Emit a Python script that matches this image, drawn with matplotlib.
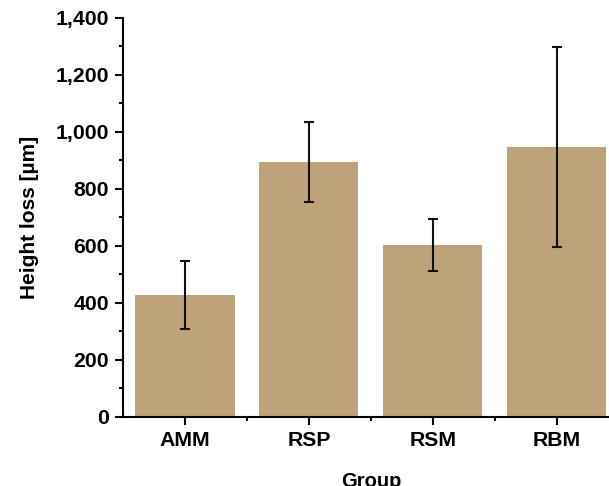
import numpy as np
import matplotlib
matplotlib.use("Agg")
import matplotlib.pyplot as plt
from matplotlib.ticker import MultipleLocator, FixedLocator, FuncFormatter

# data
groups = ["AMM", "RSP", "RSM", "RBM"]
height_loss = [428, 895, 604, 948]
height_err = [120, 141, 92, 350]

bar_color = "#BEA27A"

plt.rcParams["font.family"] = ["Liberation Sans", "DejaVu Sans"]
plt.rcParams["font.weight"] = "bold"

fig = plt.figure(figsize=(6.09, 4.86), dpi=100)
ax = fig.add_axes([0.202, 0.142, 0.814, 0.821])

x = np.arange(len(groups))
ax.bar(x, height_loss, width=0.8, color=bar_color, zorder=2)
ax.errorbar(x, height_loss, yerr=height_err, fmt="none", ecolor="#111111",
            elinewidth=1.5, capsize=3.3, capthick=1.5, zorder=3)

ax.set_xlim(-0.5, 3.5)
ax.set_ylim(0, 1400)
ax.set_xticks(x)
ax.set_xticklabels(groups)
ax.xaxis.set_minor_locator(FixedLocator([0.5, 1.5, 2.5]))
ax.yaxis.set_major_locator(MultipleLocator(200))
ax.yaxis.set_minor_locator(MultipleLocator(100))
ax.yaxis.set_major_formatter(FuncFormatter(lambda v, p: f"{int(v):,}"))

for s in ["top", "right"]:
    ax.spines[s].set_visible(False)
for s in ["left", "bottom"]:
    ax.spines[s].set_linewidth(1.5)

ax.tick_params(which="major", length=6, width=1.5, labelsize=15.3, pad=4)
ax.tick_params(which="minor", length=3, width=1.5)
for lab in ax.get_xticklabels() + ax.get_yticklabels():
    lab.set_fontweight("bold")

ax.set_xlabel("Group", fontsize=14.5, fontweight="bold", labelpad=16)
ax.set_ylabel("Height loss [µm]", fontsize=15, fontweight="bold", labelpad=12)

fig.savefig("out.png", dpi=100)
